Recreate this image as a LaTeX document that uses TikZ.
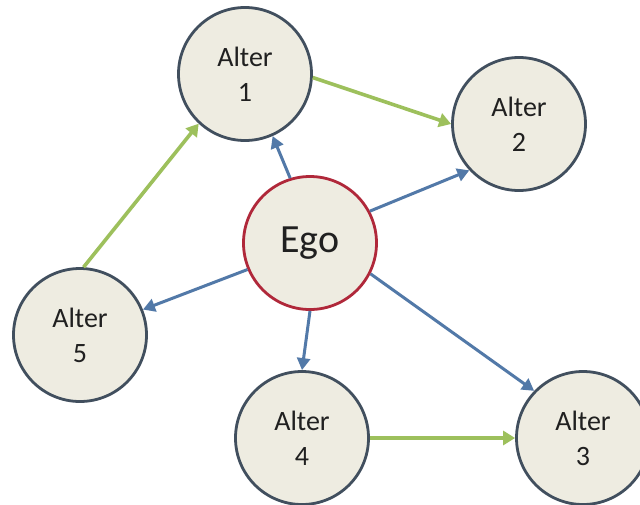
\documentclass[tikz,border=0pt]{standalone}
\usepackage{fontspec}
\setmainfont{Carlito}
\usetikzlibrary{arrows.meta}

\definecolor{nodefill}{HTML}{EEECE1}
\definecolor{nodeline}{HTML}{414F5E}
\definecolor{egoline}{HTML}{B0283A}
\definecolor{tieblue}{HTML}{5279A8}
\definecolor{tiegreen}{HTML}{9DC05C}
\definecolor{labeltext}{HTML}{202020}

\tikzset{
  person/.style={circle, draw=nodeline, line width=2.8pt, fill=nodefill,
    minimum size=133pt, inner sep=0pt, align=center, text=labeltext,
    font=\fontsize{28}{35}\selectfont},
  egonode/.style={person, draw=egoline, font=\fontsize{40}{44}\selectfont},
  egotie/.style={draw=tieblue, line width=3pt,
    -{Triangle[length=12pt,width=13pt]}},
  altertie/.style={draw=tiegreen, line width=3.6pt,
    -{Triangle[length=12pt,width=14pt]}}
}

\begin{document}
\begin{tikzpicture}[x=1pt, y=-1pt]
  \useasboundingbox (0,0) rectangle (640,504);
  \fill[white] (0,0) rectangle (640,504);

  % people
  \node[egonode] (ego) at (310,243) {Ego};
  \node[person] (a1) at (245,74)  {Alter\\1};
  \node[person] (a2) at (519,124) {Alter\\2};
  \node[person] (a3) at (583,438) {Alter\\3};
  \node[person] (a4) at (302,438) {Alter\\4};
  \node[person] (a5) at (80,335)  {Alter\\5};

  % ties from ego
  \draw[egotie] (ego.107) -- (a1.294);
  \draw[egotie] (ego.28)  -- (a2.223);
  \draw[egotie] (ego.-27) -- (a3.136);
  \draw[egotie] (ego.270) -- (a4.90);
  \draw[egotie] (ego.203) -- (a5.22);

  % ties between alters
  \draw[altertie] (a1.-3) -- (a2.180);
  \draw[altertie] (a5.87) -- (a1.227);
  \draw[altertie] (a4.0)  -- (a3.180);
\end{tikzpicture}
\end{document}
